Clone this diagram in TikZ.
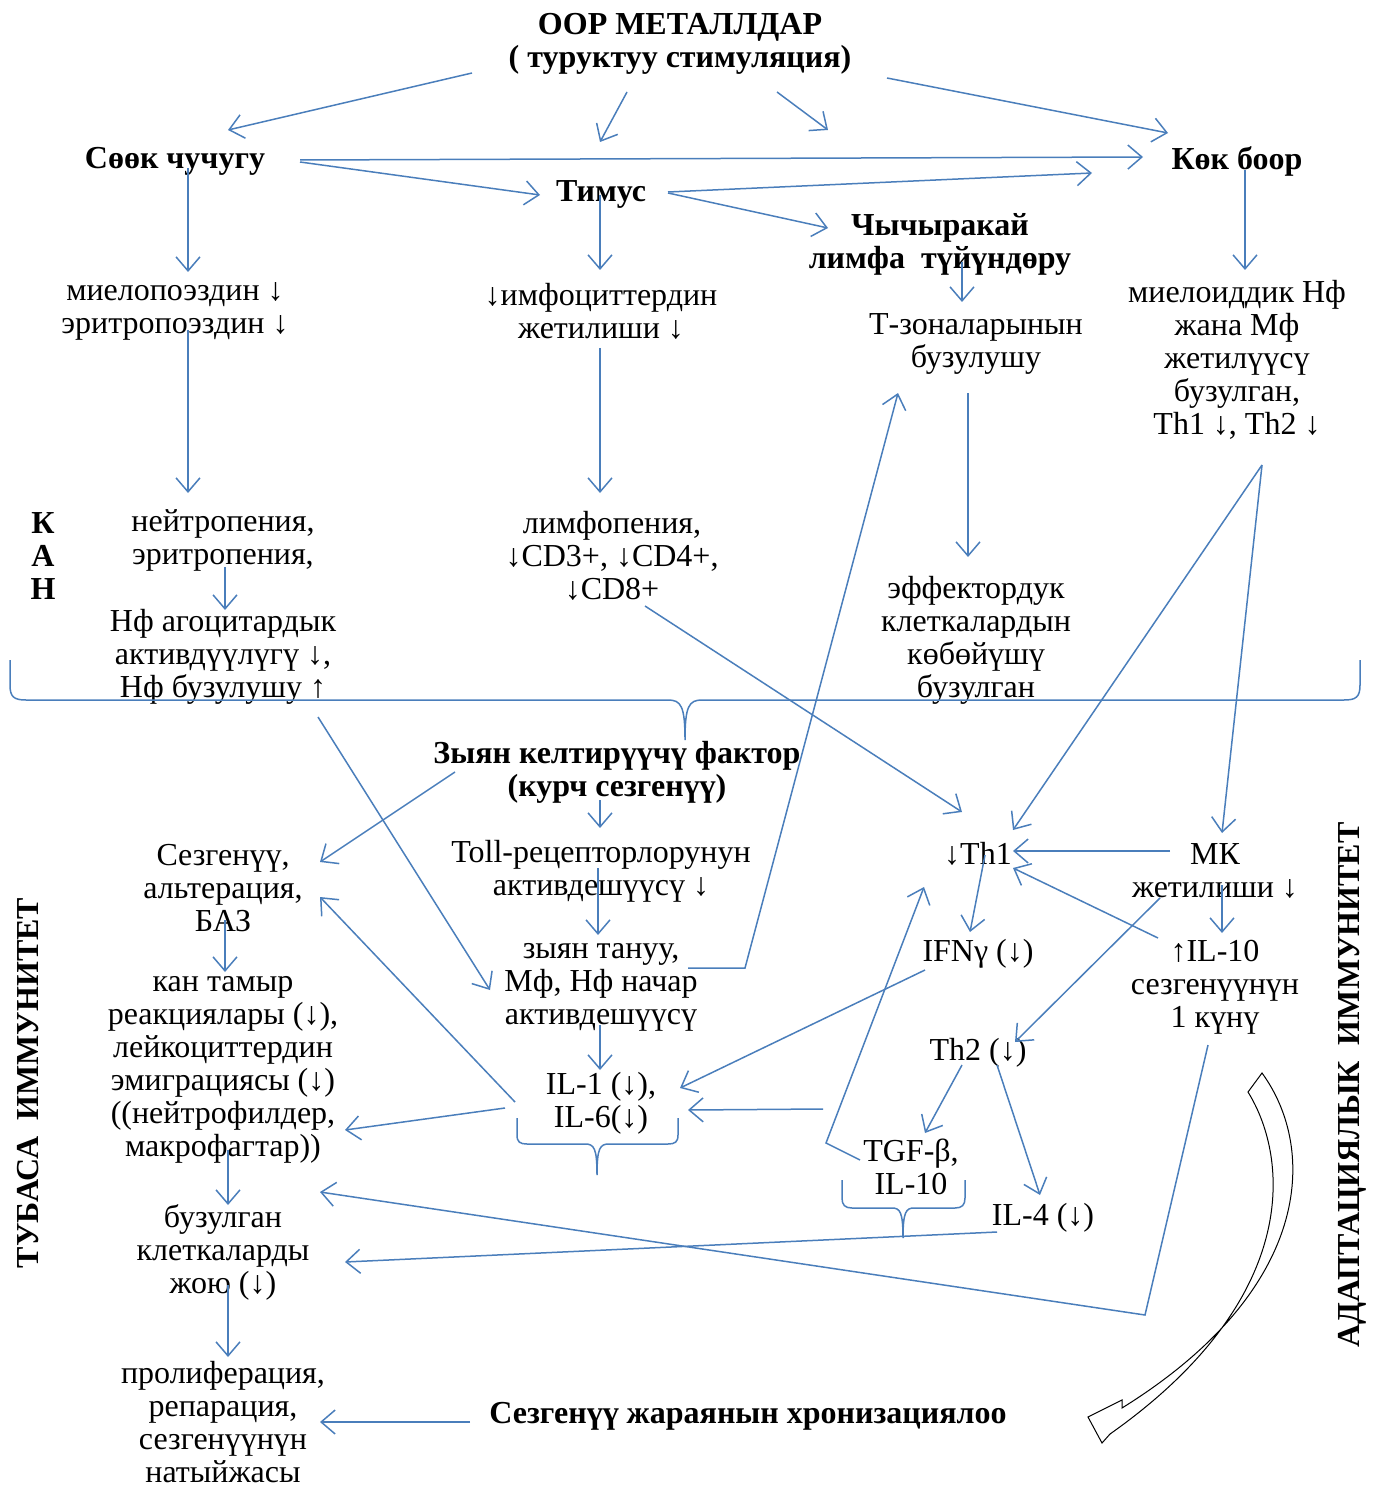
\documentclass[tikz,border=0pt]{standalone}
\usepackage{fontspec}
\setmainfont{Liberation Serif}
\usetikzlibrary{arrows.meta,calc}
\definecolor{lienbleu}{RGB}{74,126,187}

\begin{document}
\begin{tikzpicture}[x=0.5pt,y=-0.5pt,->,>={Straight Barb[length=7pt,width=12pt]},
   texte simple/.style={font=\fontsize{16}{16.5}\selectfont,align=center,inner sep=1pt},
   titre gras/.style={texte simple,font=\fontsize{16}{16.5}\selectfont\bfseries},
   fleche bleue/.style={draw=lienbleu,line width=0.75pt},
   accolade/.style={-,draw=lienbleu,line width=0.75pt},
   fleche creuse/.style={-,draw=black,fill=white,line width=0.5pt}]

  \useasboundingbox (0,0) rectangle (1376,1492);

  \begin{scope}[yshift=-1.5pt]
  % organes
  \node[titre gras] (title) at (680,41) {ООР МЕТАЛЛДАР\\( туруктуу стимуляция)};
  \node[titre gras] (soek) at (175,158) {Сөөк чучугу};
  \node[titre gras] (kok) at (1237,158) {Көк боор};
  \node[titre gras] (timus) at (601,191) {Тимус};
  \node[titre gras] (chych) at (940,241) {Чычыракай\\лимфа\ \ түйүндөру};

  % кан жана лимфа органдары
  \node[texte simple] (mielo) at (175,308) {миелопоэздин ↓\\эритропоэздин ↓};
  \node[texte simple] (limfo) at (601,308) {↓имфоциттердин\\жетилиши ↓};
  \node[texte simple] (tzona) at (976,341) {Т-зоналарынын\\бузулушу};
  \node[texte simple] (mieloid) at (1237,357) {миелоиддик Нф\\жана Мф\\жетилүүсү\\бузулган,\\Th1 ↓, Th2 ↓};
  \node[titre gras] (kan) at (43,553) {К\\А\\Н};
  \node[texte simple] (neitro) at (223,537) {нейтропения,\\эритропения,};
  \node[texte simple] (nfagots) at (223,654) {Нф агоцитардык\\активдүүлүгү ↓,\\Нф бузулушу ↑};
  \node[texte simple] (limfopen) at (612,553) {лимфопения,\\↓CD3+, ↓CD4+,\\↓CD8+};
  \node[texte simple] (effekt) at (976,637) {эффектордук\\клеткалардын\\көбөйүшү\\бузулган};

  % тубаса иммунитет
  \node[titre gras] (zyan) at (617,769) {Зыян келтирүүчү фактор\\(курч сезгенүү)};
  \node[texte simple] (sezg) at (223,885) {Сезгенүү,\\альтерация,\\БАЗ};
  \node[texte simple] (toll) at (601,868) {Toll-рецепторлорунун\\активдешүүсү ↓};
  \node[texte simple] (zyantanuu) at (601,984) {зыян тануу,\\Мф, Нф начар\\активдешүүсү};
  \node[texte simple] (il1) at (601,1100) {IL-1 (↓),\\IL-6(↓)};
  \node[texte simple] (kantamyr) at (223,1067) {кан тамыр\\реакциялары (↓),\\лейкоциттердин\\эмиграциясы (↓)\\((нейтрофилдер,\\макрофагтар))};
  \node[texte simple] (buzul) at (223,1249) {бузулган\\клеткаларды\\жою (↓)};
  \node[texte simple] (prolif) at (223,1419) {пролиферация,\\репарация,\\сезгенүүнүн\\натыйжасы};
  \node[titre gras] (hron) at (748,1413) {Сезгенүү жараянын хронизациялоо};

  % адаптациялык иммунитет
  \node[texte simple] (th1) at (978,851) {↓Th1};
  \node[texte simple] (mk) at (1215,868) {МК\\жетилиши ↓};
  \node[texte simple] (ifn) at (978,951) {IFNγ (↓)};
  \node[texte simple] (il10) at (1215,984) {↑IL-10\\сезгенүүнүн\\1 күнү};
  \node[texte simple] (th2) at (978,1050) {Th2 (↓)};
  \node[texte simple] (tgf) at (911,1164) {TGF-β,\\IL-10};
  \node[texte simple] (il4) at (1043,1215) {IL-4 (↓)};

  \node[titre gras,rotate=90] (tubasa) at (28,1080) {ТУБАСА\ \ ИММУНИТЕТ};
  \node[titre gras,rotate=90] (adapt) at (1352,1082) {АДАПТАЦИЯЛЫК\ \ ИММУНИТЕТ};
  \end{scope}

  % жебелер
  \foreach \from/\df/\to/\dt in {
    title/{-208,32}/soek/{53,-28}, title/{-53,51}/timus/{-1,-49},
    title/{97,51}/chych/{-112,-111}, title/{207,37}/kok/{-69,-25},
    soek/{125,2}/kok/{-94,-1}, soek/{125,4}/timus/{-61,4},
    timus/{67,1}/kok/{-145,15}, timus/{67,2}/chych/{-112,-13},
    soek/{13,10}/mielo/{13,-36}, timus/{-1,4}/limfo/{-1,-38},
    chych/{22,21}/tzona/{-14,-39}, kok/{8,12}/mieloid/{8,-87},
    mielo/{13,22}/neitro/{-35,-44}, limfo/{-1,40}/limfopen/{-12,-60},
    tzona/{-8,52}/effekt/{-8,-80}, mieloid/{25,108}/th1/{35,-21},
    mieloid/{25,108}/mk/{7,-35}, neitro/{2,30}/nfagots/{2,-44},
    nfagots/{95,63}/zyantanuu/{-111,6}, limfopen/{33,53}/th1/{-16,-39},
    zyan/{-162,3}/sezg/{97,-23}, zyan/{-17,31}/toll/{-1,-40},
    toll/{-3,0}/zyantanuu/{-3,-49}, zyantanuu/{-1,41}/il1/{-1,-30},
    il1/{-96,8}/kantamyr/{122,63}, il1/{-86,2}/sezg/{97,12},
    tgf/{-88,-55}/il1/{87,10}, ifn/{-53,19}/il1/{79,-12},
    sezg/{2,35}/kantamyr/{2,-95}, kantamyr/{5,83}/buzul/{5,-44},
    buzul/{5,36}/prolif/{5,-62}, hron/{-278,9}/prolif/{97,3},
    mk/{-45,-17}/th1/{35,0}, th1/{7,4}/ifn/{-8,-19},
    mk/{7,17}/il10/{7,-51}, il10/{-57,-46}/th1/{35,17},
    mk/{-55,30}/th2/{37,-8}, th2/{-16,15}/tgf/{14,-31},
    th2/{19,15}/il4/{-3,-20}, il4/{-46,17}/buzul/{122,13}}
    \draw[fleche bleue] ($(\from)+(\df)+(0,-3)$) -- ($(\to)+(\dt)+(0,-3)$);

  \draw[fleche bleue] ($(zyantanuu)+(87,-19)$) -- ($(zyantanuu)+(144,-19)$) -- ($(tzona)+(-78,49)$);
  \draw[fleche bleue] ($(tgf)+(-51,-7)$) -- ($(tgf)+(-85,-24)$) -- ($(th1)+(-54,33)$);
  \draw[fleche bleue] ($(il10)+(-7,58)$) -- ($(il10)+(-70,328)$) -- ($(buzul)+(97,-60)$);

  % кашаалар
  \draw[accolade] (10,660) -- (10,685) .. controls (10,697) and (14,700) .. (26,700) -- (668,700)
    .. controls (681,700) and (685,706) .. (685,740) .. controls (685,706) and (689,700) .. (702,700)
    -- (1344,700) .. controls (1356,700) and (1360,697) .. (1360,685) -- (1360,660);
  \draw[accolade] (517,1118) -- (517,1135) .. controls (517,1142) and (520,1144) .. (527,1144) -- (585,1144)
    .. controls (594,1144) and (597,1148) .. (597,1175) .. controls (597,1148) and (600,1144) .. (609,1144)
    -- (668,1144) .. controls (675,1144) and (678,1142) .. (678,1135) -- (678,1118);
  \draw[accolade] (842,1180) -- (842,1198) .. controls (842,1205) and (845,1208) .. (852,1208) -- (892,1208)
    .. controls (900,1208) and (903,1212) .. (903,1238) .. controls (903,1212) and (906,1208) .. (914,1208)
    -- (955,1208) .. controls (962,1208) and (965,1205) .. (965,1198) -- (965,1180);

  % ийри жебе
  \draw[fleche creuse] (1262,1073) .. controls (1318,1150) and (1312,1290) .. (1122,1408)
    -- (1122,1400) -- (1088,1417) -- (1102,1443) -- (1110,1434)
    .. controls (1300,1300) and (1290,1160) .. (1248,1092) -- cycle;
\end{tikzpicture}
\end{document}
